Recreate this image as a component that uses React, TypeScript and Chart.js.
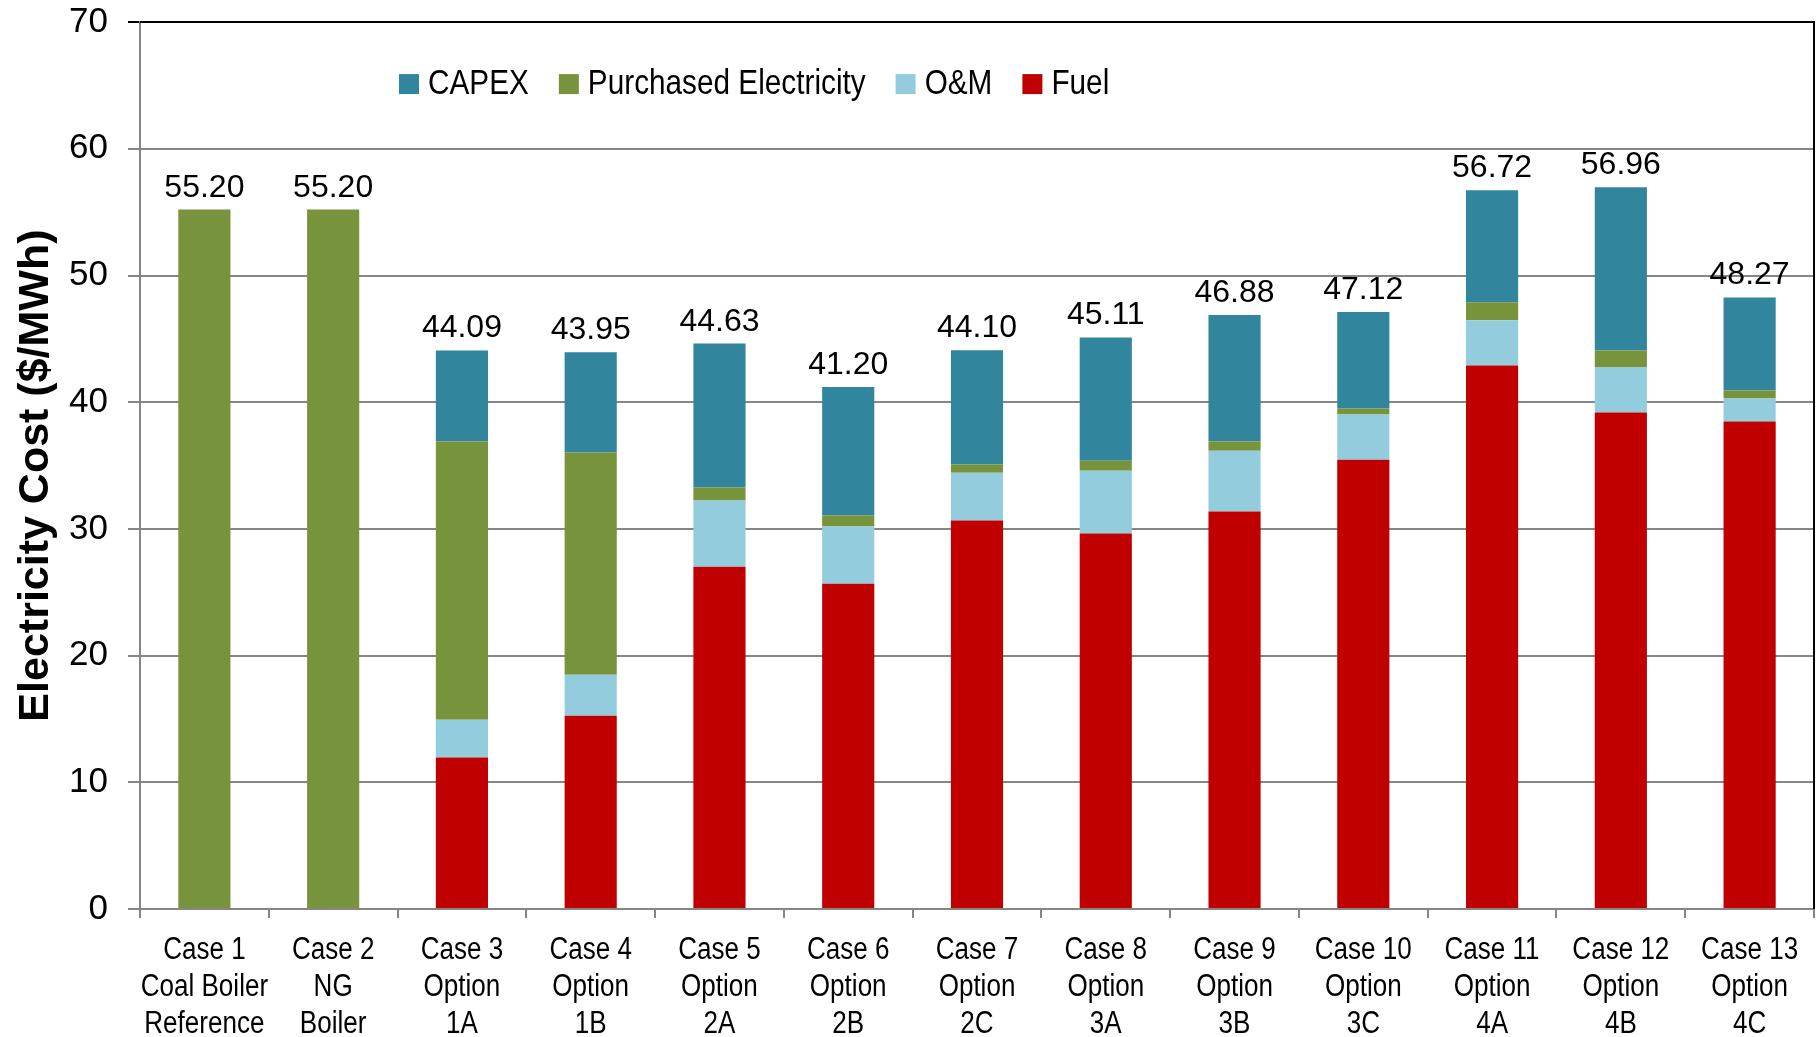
import React, { useEffect, useRef } from "react";
import { Chart, registerables } from "chart.js";

Chart.register(...registerables);

const categories: string[][] = [
  ["Case 1", "Coal Boiler", "Reference"],
  ["Case 2", "NG", "Boiler"],
  ["Case 3", "Option", "1A"],
  ["Case 4", "Option", "1B"],
  ["Case 5", "Option", "2A"],
  ["Case 6", "Option", "2B"],
  ["Case 7", "Option", "2C"],
  ["Case 8", "Option", "3A"],
  ["Case 9", "Option", "3B"],
  ["Case 10", "Option", "3C"],
  ["Case 11", "Option", "4A"],
  ["Case 12", "Option", "4B"],
  ["Case 13", "Option", "4C"],
];

const fuel = [0, 0, 11.95, 15.26, 27.02, 25.67, 30.66, 29.63, 31.37, 35.46, 42.9, 39.18, 38.47];
const om = [0, 0, 2.98, 3.22, 5.22, 4.51, 3.77, 4.96, 4.8, 3.56, 3.56, 3.56, 1.82];
const purchasedElectricity = [55.2, 55.2, 21.96, 17.55, 1.03, 0.88, 0.66, 0.79, 0.72, 0.48, 1.43, 1.35, 0.63];
const capex = [0, 0, 7.2, 7.92, 11.36, 10.14, 9.01, 9.73, 9.99, 7.62, 8.83, 12.87, 7.35];
const totals = [55.2, 55.2, 44.09, 43.95, 44.63, 41.2, 44.1, 45.11, 46.88, 47.12, 56.72, 56.96, 48.27];

const yTicks = [0, 10, 20, 30, 40, 50, 60, 70];
const yTitle = "Electricity Cost ($/MWh)";

const REGULAR = "'Liberation Sans', Arial, sans-serif";
const GRID = "#868686";

// draw text horizontally condensed (emulates Arial Narrow)
function narrowText(ctx: CanvasRenderingContext2D, text: string, x: number, y: number, sx: number) {
  ctx.save();
  ctx.translate(x, y);
  ctx.scale(sx, 1);
  ctx.fillText(text, 0, 0);
  ctx.restore();
}

const frameAndLabels = {
  id: "frameAndLabels",
  afterDraw(chart: any) {
    const { ctx, chartArea } = chart;
    const y = chart.scales.y;
    const x = chart.scales.x;
    ctx.save();
    // top & right frame
    ctx.strokeStyle = "#000";
    ctx.lineWidth = 2;
    ctx.beginPath();
    ctx.moveTo(chartArea.left, chartArea.top);
    ctx.lineTo(chartArea.right, chartArea.top);
    ctx.lineTo(chartArea.right, chartArea.bottom);
    ctx.stroke();

    // totals above bars
    ctx.fillStyle = "#000";
    ctx.font = `32px ${REGULAR}`;
    ctx.textAlign = "center";
    ctx.textBaseline = "alphabetic";
    totals.forEach((t, i) => {
      const px = x.getPixelForValue(i);
      const py = y.getPixelForValue(t);
      ctx.fillText(t.toFixed(2), px, py - 13);
    });

    // category labels (narrow)
    ctx.font = `31px ${REGULAR}`;
    ctx.textAlign = "center";
    categories.forEach((lines, i) => {
      const px = x.getPixelForValue(i);
      lines.forEach((ln, k) => {
        narrowText(ctx, ln, px, chartArea.bottom + 50 + k * 37, 0.84);
      });
    });

    // y axis title
    ctx.save();
    ctx.font = `bold 43px ${REGULAR}`;
    ctx.textAlign = "center";
    ctx.textBaseline = "middle";
    ctx.translate(36, (chartArea.top + chartArea.bottom) / 2 + 10);
    ctx.rotate(-Math.PI / 2);
    ctx.fillText(yTitle, 0, 0);
    ctx.restore();

    // legend inside plot area
    const order = [3, 2, 1, 0];
    let lx = chartArea.left + 259;
    const ly = chartArea.top + 62;
    const sx = 0.85;
    ctx.font = `35px ${REGULAR}`;
    ctx.textAlign = "left";
    ctx.textBaseline = "middle";
    order.forEach((di) => {
      const ds = chart.data.datasets[di];
      ctx.fillStyle = ds.backgroundColor;
      ctx.fillRect(lx, ly - 10, 20, 20);
      lx += 29;
      ctx.fillStyle = "#000";
      narrowText(ctx, ds.label, lx, ly, sx);
      lx += ctx.measureText(ds.label).width * sx + 30;
    });
    ctx.restore();
  },
};

export default function App() {
  const ref = useRef<HTMLCanvasElement | null>(null);
  useEffect(() => {
    if (!ref.current) return;
    const chart = new Chart(ref.current, {
      type: "bar",
      data: {
        labels: categories,
        datasets: [
          { label: "Fuel", data: fuel, backgroundColor: "#C00000" },
          { label: "O&M", data: om, backgroundColor: "#93CDDD" },
          { label: "Purchased Electricity", data: purchasedElectricity, backgroundColor: "#77933C" },
          { label: "CAPEX", data: capex, backgroundColor: "#31859C" },
        ].map((d) => ({ ...d, barPercentage: 0.405, categoryPercentage: 1, borderWidth: 0 })),
      },
      options: {
        responsive: false,
        animation: false,
        devicePixelRatio: 1,
        layout: { padding: { top: 0, right: 6, left: 0, bottom: 0 } },
        plugins: { legend: { display: false }, tooltip: { enabled: false } },
        scales: {
          x: {
            stacked: true,
            grid: { drawOnChartArea: false, drawTicks: true, tickLength: 9, color: GRID, lineWidth: 2, offset: true },
            border: { color: GRID, width: 2 },
            ticks: { display: false, autoSkip: false },
            afterFit(s: any) {
              s.height = 128;
            },
          },
          y: {
            stacked: true,
            min: 0,
            max: 70,
            afterBuildTicks(s: any) {
              s.ticks = yTicks.map((v) => ({ value: v }));
            },
            grid: {
              color: (c: any) => (c.tick && c.tick.value === 70 ? "#000" : GRID),
              lineWidth: 2,
              tickLength: 12,
              drawTicks: true,
            },
            border: { color: GRID, width: 2 },
            ticks: { color: "#000", font: { size: 35, family: REGULAR, lineHeight: 0.12 }, padding: 20 },
            title: { display: false },
            afterFit(s: any) {
              s.width = 140;
            },
          },
        },
      },
      plugins: [frameAndLabels],
    } as any);
    return () => chart.destroy();
  }, []);
  return (
    <div style={{ position: "fixed", left: 0, top: 0, width: 1820, height: 1037, background: "#fff" }}>
      <canvas ref={ref} width={1820} height={1037} />
    </div>
  );
}
